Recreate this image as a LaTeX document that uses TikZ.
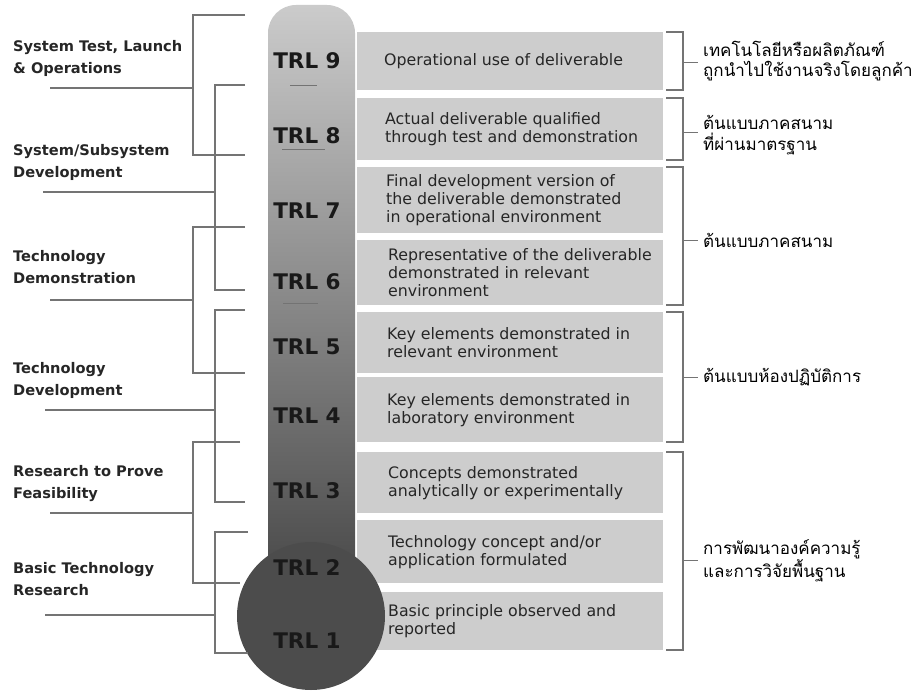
\documentclass[tikz,border=0pt]{standalone}
\usepackage{fontspec}
\setmainfont{DejaVu Sans}
\newfontfamily\thaifont[Script=Thai]{Loma}
\definecolor{boxgray}{HTML}{CDCDCD}
\definecolor{tubetop}{HTML}{CBCBCB}
\definecolor{tubemid}{HTML}{8A8A8A}
\definecolor{tubebot}{HTML}{454545}
\definecolor{bulbgray}{HTML}{4C4C4C}
\definecolor{linegray}{HTML}{747474}
\begin{document}
\begin{tikzpicture}[x=1pt,y=-1pt,
  descbox/.style={fill=boxgray,draw=none,minimum width=306,minimum height=#1,anchor=north west,inner sep=0},
  desc/.style={anchor=west,align=left,inner sep=0,text=black!85,font=\fontsize{15.8}{18}\selectfont},
  trl/.style={inner sep=0,text=black!90,font=\bfseries\fontsize{21.5}{22}\selectfont},
  lbl/.style={anchor=west,align=left,inner sep=0,text=black!85,font=\bfseries\fontsize{14.6}{22}\selectfont},
  thai/.style={anchor=west,align=left,inner sep=0,text=black,font=\thaifont\fontsize{17}{20.5}\selectfont},
  brk/.style={draw=linegray,line width=1.1pt},
  tick/.style={draw=black!55,line width=0.9pt}]
\useasboundingbox (0,0) rectangle (916,692);

% description boxes
\node[descbox=58] (b9) at (357,32) {};
\node[descbox=62] (b8) at (357,98) {};
\node[descbox=66] (b7) at (357,167) {};
\node[descbox=65] (b6) at (357,240) {};
\node[descbox=61] (b5) at (357,312) {};
\node[descbox=65] (b4) at (357,377) {};
\node[descbox=61] (b3) at (357,452) {};
\node[descbox=63] (b2) at (357,520) {};
\node[descbox=58] (b1) at (357,592) {};

% thermometer
\shade[top color=tubetop,middle color=tubemid,bottom color=tubebot,rounded corners=28] (268,5) rectangle (355,600);
\fill[bulbgray] (311,616) circle[radius=74pt];
\coordinate (k1a) at (290,85);  \coordinate (k1b) at (317,85);
\coordinate (k2a) at (282,149); \coordinate (k2b) at (325,149);
\coordinate (k3a) at (283,303); \coordinate (k3b) at (318,303);
\draw[tick] (k1a) -- (k1b);
\draw[tick] (k2a) -- (k2b);
\draw[tick] (k3a) -- (k3b);

\node[trl] (t9) at (307,61) {TRL 9};
\node[trl] (t8) at (307,136) {TRL 8};
\node[trl] (t7) at (307,211) {TRL 7};
\node[trl] (t6) at (307,282) {TRL 6};
\node[trl] (t5) at (307,347) {TRL 5};
\node[trl] (t4) at (307,416) {TRL 4};
\node[trl] (t3) at (307,491) {TRL 3};
\node[trl] (t2) at (307,568) {TRL 2};
\node[trl] (t1) at (307,641) {TRL 1};

\node[desc] (d9) at ([xshift=27]b9.west) {Operational use of deliverable};
\node[desc] (d8) at ([xshift=28]b8.west) {Actual deliverable qualified\\through test and demonstration};
\node[desc] (d7) at ([xshift=29]b7.west) {Final development version of\\the deliverable demonstrated\\in operational environment};
\node[desc] (d6) at ([xshift=31]b6.west) {Representative of the deliverable\\demonstrated in relevant\\environment};
\node[desc] (d5) at ([xshift=30]b5.west) {Key elements demonstrated in\\relevant environment};
\node[desc] (d4) at ([xshift=30]b4.west) {Key elements demonstrated in\\laboratory environment};
\node[desc] (d3) at ([xshift=31]b3.west) {Concepts demonstrated\\analytically or experimentally};
\node[desc] (d2) at ([xshift=31]b2.west) {Technology concept and/or\\application formulated};
\node[desc] (d1) at ([xshift=31]b1.west) {Basic principle observed and\\reported};

% left labels
\node[lbl] (l1) at (13,58) {System Test, Launch\\\& Operations};
\node[lbl] (l2) at (13,162) {System/Subsystem\\Development};
\node[lbl] (l3) at (13,267) {Technology\\Demonstration};
\node[lbl] (l4) at (13,380) {Technology\\Development};
\node[lbl] (l5) at (13,484) {Research to Prove\\Feasibility};
\node[lbl] (l6) at (13,579) {Basic Technology\\Research};

% left brackets
\coordinate (u1a) at (50,88);  \coordinate (u1b) at (193,88);
\coordinate (u2a) at (43,192); \coordinate (u2b) at (215,192);
\coordinate (u3a) at (50,300); \coordinate (u3b) at (193,300);
\coordinate (u4a) at (45,410); \coordinate (u4b) at (215,410);
\coordinate (u5a) at (50,513); \coordinate (u5b) at (193,513);
\coordinate (u6a) at (45,615); \coordinate (u6b) at (215,615);
\draw[brk] (u1a) -- (u1b);
\draw[brk] (u2a) -- (u2b);
\draw[brk] (u3a) -- (u3b);
\draw[brk] (u4a) -- (u4b);
\draw[brk] (u5a) -- (u5b);
\draw[brk] (u6a) -- (u6b);
\draw[brk] (245,15) -- (193,15) -- (193,155) -- (245,155);
\draw[brk] (245,85) -- (215,85) -- (215,290) -- (245,290);
\draw[brk] (245,227) -- (193,227) -- (193,373) -- (245,373);
\draw[brk] (245,310) -- (215,310) -- (215,502) -- (245,502);
\draw[brk] (240,442) -- (193,442) -- (193,583) -- (240,583);
\draw[brk] (248,532) -- (215,532) -- (215,653) -- (248,653);

% right brackets
\draw[brk] (666,32) -- (683,32) -- (683,90) -- (666,90);
\draw[brk] (666,98) -- (683,98) -- (683,160) -- (666,160);
\draw[brk] (666,167) -- (683,167) -- (683,305) -- (666,305);
\draw[brk] (666,312) -- (683,312) -- (683,442) -- (666,442);
\draw[brk] (666,452) -- (683,452) -- (683,650) -- (666,650);
\coordinate (r1) at (683,62);  \coordinate (r2) at (683,132);
\coordinate (r3) at (683,240); \coordinate (r4) at (683,377);
\coordinate (r5) at (683,560);

\node[thai] (th1) at (703,61) {เทคโนโลยีหรือผลิตภัณฑ์\\ถูกนำไปใช้งานจริงโดยลูกค้า};
\node[thai] (th2) at (703,135) {ต้นแบบภาคสนาม\\ที่ผ่านมาตรฐาน};
\node[thai] (th3) at (703,240) {ต้นแบบภาคสนาม};
\node[thai] (th4) at (703,377) {ต้นแบบห้องปฏิบัติการ};
\node[thai] (th5) at (703,561) {การพัฒนาองค์ความรู้\\และการวิจัยพื้นฐาน};
\draw[brk,line width=0.8pt] (r1) -- ([xshift=-5]th1.west |- r1);
\draw[brk,line width=0.8pt] (r2) -- ([xshift=-5]th2.west |- r2);
\draw[brk,line width=0.8pt] (r3) -- ([xshift=-5]th3.west |- r3);
\draw[brk,line width=0.8pt] (r4) -- ([xshift=-5]th4.west |- r4);
\draw[brk,line width=0.8pt] (r5) -- ([xshift=-5]th5.west |- r5);
\end{tikzpicture}
\end{document}
